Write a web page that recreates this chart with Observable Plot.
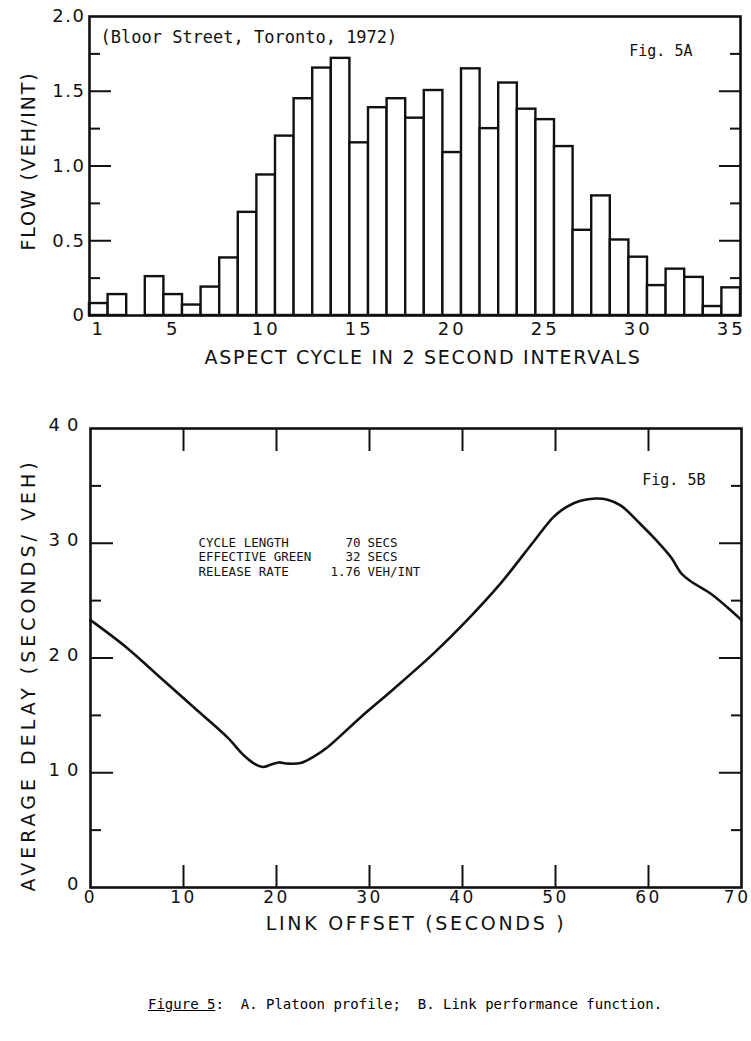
<!DOCTYPE html>
<html>
<head>
<meta charset="utf-8">
<script src="https://cdn.jsdelivr.net/npm/d3@7"></script>
<script src="https://cdn.jsdelivr.net/npm/@observablehq/plot@0.6"></script>
<style>
html, body { margin: 0; padding: 0; background: #fff; }
#page { position: relative; width: 751px; height: 1041px; overflow: hidden; background: #fff; }
#chartA { position: absolute; left: 0; top: 0; }
#chartB { position: absolute; left: 0; top: 390px; }
#caption { position: absolute; left: 148px; top: 996px; font-family: "DejaVu Sans Mono", monospace; font-size: 14px; line-height: 16px; color: #000; white-space: pre; }
#chartA g[aria-label="y-axis tick label"] { letter-spacing: 1.5px; }
#chartA g[aria-label="x-axis tick label"] { letter-spacing: 3px; }
#chartB g[aria-label="y-axis tick label"] { letter-spacing: 7px; }
#chartB g[aria-label="x-axis tick label"] { letter-spacing: 2.5px; }
</style>
</head>
<body>
<div id="page">
  <div id="chartA"></div>
  <div id="chartB"></div>
  <div id="caption"></div>
</div>
<script>
// ---- Fig. 5A: platoon profile ----
const cycle = [1,2,3,4,5,6,7,8,9,10,11,12,13,14,15,16,17,18,19,20,21,22,23,24,25,26,27,28,29,30,31,32,33,34,35];
const flow = [0.08,0.14,0,0.26,0.14,0.07,0.19,0.385,0.69,0.94,1.20,1.45,1.655,1.72,1.155,1.39,1.45,1.32,1.505,1.09,1.65,1.25,1.555,1.38,1.31,1.13,0.57,0.80,0.505,0.39,0.20,0.31,0.255,0.06,0.185];
const flowTicks = [0, 0.5, 1, 1.5, 2];
const flowMajorInner = [0.5, 1, 1.5];
const flowMinorInner = [0.25, 0.75, 1.25, 1.75];
const cycleTicks = [1, 5, 10, 15, 20, 25, 30, 35];
const titleA = "ASPECT CYCLE IN 2 SECOND INTERVALS";
const yTitleA = "FLOW (VEH/INT)";
const sourceA = "(Bloor Street, Toronto, 1972)";
const figA = "Fig. 5A";

// ---- Fig. 5B: link performance function ----
const offset = [0,3.9,7.5,11.1,14.7,16.5,17.6,18.6,19.35,20.25,21.15,22.6,24.0,25.45,29.0,32.6,36.9,40.5,44.1,47.7,49.8,51.25,52.7,54.3,55.6,57.0,59.1,60.9,62.4,63.6,64.7,66.7,68.5,70];
const delay  = [23.3,20.9,18.3,15.7,13.1,11.5,10.8,10.5,10.7,10.9,10.8,10.85,11.4,12.2,14.8,17.3,20.4,23.3,26.5,30.2,32.3,33.2,33.7,33.9,33.8,33.3,31.7,30.2,28.8,27.3,26.6,25.6,24.4,23.3];
const offsetTicks = [0, 10, 20, 30, 40, 50, 60, 70];
const offsetInner = [10, 20, 30, 40, 50, 60];
const delayTicks = [0, 10, 20, 30, 40];
const delayMajorInner = [10, 20, 30];
const delayMinorInner = [5, 15, 25, 35];
const titleB = "LINK OFFSET (SECONDS )";
const yTitleB = "AVERAGE DELAY (SECONDS/ VEH)";
const figB = "Fig. 5B";
const noteLabels = ["CYCLE LENGTH", "EFFECTIVE GREEN", "RELEASE RATE"];
const noteValues = ["70", "32", "1.76"];
const noteUnits = ["SECS", "SECS", "VEH/INT"];

const captionLead = "Figure 5";
const captionRest = ":  A. Platoon profile;  B. Link performance function.";

const sans = "DejaVu Sans";
const mono = "DejaVu Sans Mono";
const ink = "#111";

const bars = cycle.map((c, i) => ({c, v: flow[i]}));

const chartA = Plot.plot({
  width: 751,
  height: 380,
  marginLeft: 89,
  marginRight: 11,
  marginTop: 16,
  marginBottom: 65,
  style: {fontFamily: sans, fontSize: "18px", color: ink, background: "#fff"},
  x: {domain: [0.5, 35.5]},
  y: {domain: [0, 2]},
  marks: [
    Plot.rectY(bars, {x1: d => d.c - 0.5, x2: d => d.c + 0.5, y1: 0, y2: "v", fill: "#fff", stroke: ink, strokeWidth: 2.4}),
    Plot.frame({stroke: ink, strokeWidth: 2.6}),
    Plot.axisY(flowMajorInner, {anchor: "left", tickSize: -22, strokeWidth: 2, fill: "none", label: null}),
    Plot.axisY(flowMinorInner, {anchor: "left", tickSize: -11, strokeWidth: 2, fill: "none", label: null}),
    Plot.axisY(flowMajorInner, {anchor: "right", tickSize: -22, strokeWidth: 2, fill: "none", label: null}),
    Plot.axisY(flowMinorInner, {anchor: "right", tickSize: -11, strokeWidth: 2, fill: "none", label: null}),
    Plot.axisY(flowTicks, {anchor: "left", tickSize: 0, tickPadding: 4, label: null, tickFormat: d => d === 0 ? "0" : d.toFixed(1)}),
    Plot.axisX(cycleTicks, {anchor: "bottom", tickSize: 0, tickPadding: 7, label: null, tickFormat: d => String(d)}),
    Plot.text([titleA], {frameAnchor: "bottom", dx: 8, dy: 42, textAnchor: "middle", lineAnchor: "middle", fontSize: 19}),
    Plot.text([yTitleA], {frameAnchor: "left", dx: -61, dy: -5, rotate: -90, textAnchor: "middle", lineAnchor: "middle", fontSize: 19}),
    Plot.text([sourceA], {frameAnchor: "top-left", dx: 11, dy: 21, textAnchor: "start", lineAnchor: "middle", fontFamily: mono, fontSize: 17}),
    Plot.text([figA], {frameAnchor: "top-right", dx: -48, dy: 35, textAnchor: "end", lineAnchor: "middle", fontFamily: mono, fontSize: 15})
  ]
});
document.getElementById("chartA").append(chartA);

const curve = offset.map((x, i) => ({x, y: delay[i]}));
const lastOffset = offsetTicks[offsetTicks.length - 1];

const chartB = Plot.plot({
  width: 751,
  height: 570,
  marginLeft: 90,
  marginRight: 10,
  marginTop: 38,
  marginBottom: 73,
  style: {fontFamily: sans, fontSize: "18px", color: ink, background: "#fff"},
  x: {domain: [0, 70]},
  y: {domain: [0, 40]},
  marks: [
    Plot.frame({stroke: ink, strokeWidth: 2.6}),
    Plot.axisX(offsetInner, {anchor: "top", tickSize: -22, strokeWidth: 2, fill: "none", label: null}),
    Plot.axisX(offsetInner, {anchor: "bottom", tickSize: -22, strokeWidth: 2, fill: "none", label: null}),
    Plot.axisY(delayMajorInner, {anchor: "left", tickSize: -23, strokeWidth: 2, fill: "none", label: null}),
    Plot.axisY(delayMinorInner, {anchor: "left", tickSize: -11, strokeWidth: 2, fill: "none", label: null}),
    Plot.axisY(delayMajorInner, {anchor: "right", tickSize: -23, strokeWidth: 2, fill: "none", label: null}),
    Plot.axisY(delayMinorInner, {anchor: "right", tickSize: -11, strokeWidth: 2, fill: "none", label: null}),
    Plot.axisY(delayTicks, {anchor: "left", tickSize: 0, tickPadding: 5, dy: -3, label: null, tickFormat: d => String(d)}),
    Plot.axisX(offsetTicks.filter(d => d !== lastOffset), {anchor: "bottom", tickSize: 0, tickPadding: 3, fontSize: 17, label: null, tickFormat: d => String(d)}),
    Plot.axisX([lastOffset], {anchor: "bottom", tickSize: 0, tickPadding: 3, fontSize: 17, textAnchor: "end", dx: 9, label: null, tickFormat: d => String(d)}),
    Plot.line(curve, {x: "x", y: "y", curve: "catmull-rom", stroke: ink, strokeWidth: 2.6}),
    Plot.text([titleB], {frameAnchor: "bottom", dx: 0, dy: 36, textAnchor: "middle", lineAnchor: "middle", fontSize: 19}),
    Plot.text([yTitleB], {frameAnchor: "left", dx: -62, dy: 17, rotate: -90, textAnchor: "middle", lineAnchor: "middle", fontSize: 19}),
    Plot.text([figB], {frameAnchor: "top-right", dx: -36, dy: 52, textAnchor: "end", lineAnchor: "middle", fontFamily: mono, fontSize: 15}),
    Plot.text([noteLabels.join("\n")], {frameAnchor: "top-left", dx: 108, dy: 108, textAnchor: "start", lineAnchor: "top", lineHeight: 1.16, fontFamily: mono, fontSize: 12.5}),
    Plot.text([noteValues.join("\n")], {frameAnchor: "top-left", dx: 270, dy: 108, textAnchor: "end", lineAnchor: "top", lineHeight: 1.16, fontFamily: mono, fontSize: 12.5}),
    Plot.text([noteUnits.join("\n")], {frameAnchor: "top-left", dx: 277, dy: 108, textAnchor: "start", lineAnchor: "top", lineHeight: 1.16, fontFamily: mono, fontSize: 12.5})
  ]
});
document.getElementById("chartB").append(chartB);

// widen the hand-lettered axis titles
function spaceTitle(svg, text, px) {
  d3.select(svg).selectAll("text")
    .filter(function () { return this.textContent === text; })
    .style("letter-spacing", px + "px");
}
spaceTitle(chartA, titleA, 1.7);
spaceTitle(chartA, yTitleA, 1.9);
spaceTitle(chartB, titleB, 2.7);
spaceTitle(chartB, yTitleB, 4);

const cap = document.getElementById("caption");
const u = document.createElement("u");
u.textContent = captionLead;
cap.append(u, document.createTextNode(captionRest));
</script>
</body>
</html>
